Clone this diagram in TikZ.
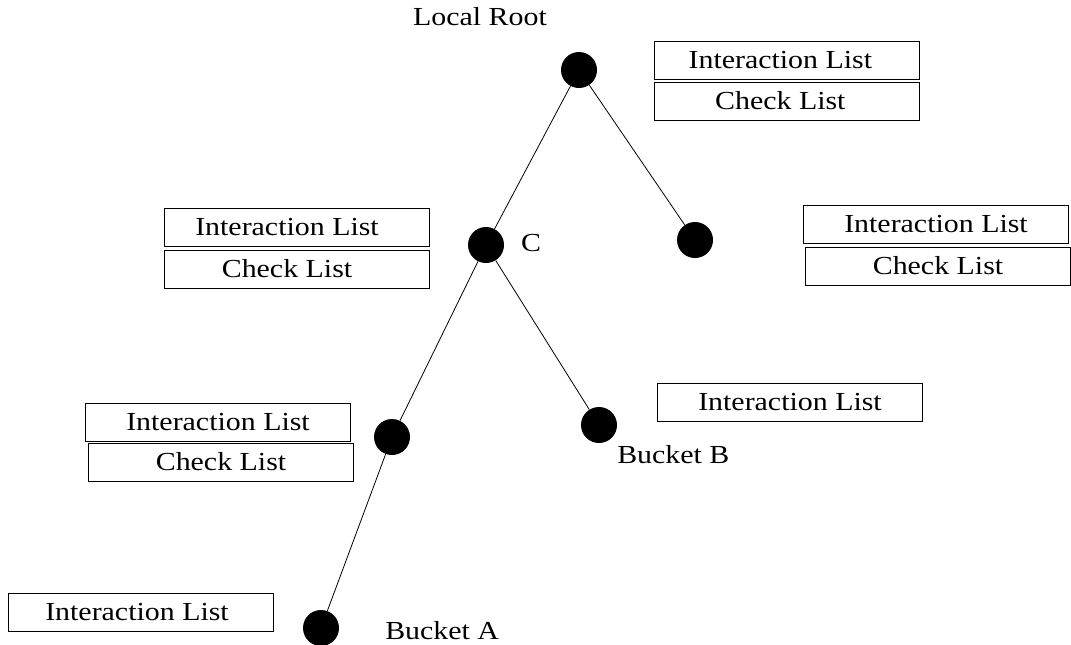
\documentclass[tikz,border=0pt]{standalone}
\usepackage{fontspec}
\setmainfont{Liberation Serif}[FakeStretch=1.15]
\usepackage{tikz}
\usetikzlibrary{positioning,calc}

\begin{document}
\begin{tikzpicture}[x=0.75pt, y=-0.75pt,
    every node/.style={font=\fontsize{19.5}{22}\selectfont},
    dot/.style={circle, fill=black, minimum size=27pt, inner sep=0pt},
    listbox/.style={draw, line width=0.7pt, minimum width=198.5pt, minimum height=28.5pt, inner sep=0pt},
    branch/.style={line width=0.6pt}]
    \useasboundingbox (0,0) rectangle (1071,644);

    % Tree nodes
    \node [dot] (root) at (579,70) {};
    \node [dot] (c) at (486,245) {};
    \node [dot] (right) at (695,240) {};
    \node [dot] (left) at (392,437) {};
    \node [dot] (bb) at (599,425) {};
    \node [dot] (ba) at (321,628) {};

    % Branches
    \draw [branch] (root) -- (c);
    \draw [branch] (root) -- (right);
    \draw [branch] (c) -- (left);
    \draw [branch] (c) -- (bb);
    \draw [branch] (left) -- (ba);

    % Labels
    \node (lroot) at (480,17) {Local Root};
    \node (lc) at (531,243) {C};
    \node [anchor=west, inner sep=0pt] (lbb) at (617,455) {Bucket B};
    \node [anchor=west, inner sep=0pt] (lba) at (385,631) {Bucket A};

    % Interaction and check lists
    \node [listbox] (il1) at (787,60) {Interaction List\kern10pt};
    \node [listbox] (cl1) at (787,101) {Check List\kern10pt};
    \node [listbox] (il2) at (297,227) {Interaction List\kern15pt};
    \node [listbox] (cl2) at (297,269) {Check List\kern15pt};
    \node [listbox] (il3) at (936,224) {Interaction List};
    \node [listbox] (cl3) at (938,266) {Check List};
    \node [listbox] (il4) at (218,422) {Interaction List};
    \node [listbox] (cl4) at (221,462) {Check List};
    \node [listbox] (il5) at (790,402) {Interaction List};
    \node [listbox] (il6) at (141,612) {Interaction List\kern6pt};
\end{tikzpicture}
\end{document}
